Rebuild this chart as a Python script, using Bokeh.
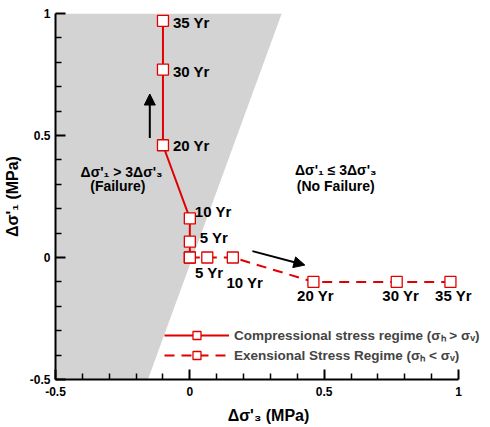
from bokeh.plotting import figure
from bokeh.models import (Range1d, FixedTicker, Arrow, NormalHead, Legend, LegendItem,
                          ColumnDataSource)
from bokeh.core.properties import value
from bokeh.embed import file_html
from bokeh.resources import INLINE

# ---- data ----
comp_labels = ["", "5 Yr", "10 Yr", "20 Yr", "30 Yr", "35 Yr"]
comp_ds3 = [0.0, 0.0, 0.0, -0.1, -0.1, -0.1]
comp_ds1 = [0.0, 0.065, 0.16, 0.46, 0.77, 0.97]

ext_labels = ["", "5 Yr", "10 Yr", "20 Yr", "30 Yr", "35 Yr"]
ext_ds3 = [0.0, 0.065, 0.16, 0.46, 0.77, 0.97]
ext_ds1 = [0.0, 0.0, 0.0, -0.1, -0.1, -0.1]

# failure region (Δσ'1 > 3Δσ'3)
fail_ds3 = [-0.5, -0.5, 0.342, -0.156]
fail_ds1 = [-0.5, 1.0, 1.0, -0.5]

tick_vals = [-0.5, 0, 0.5, 1]
tick_text = ["-0.5", "0", "0.5", "1"]
minor_vals = [-0.4, -0.3, -0.2, -0.1, 0.1, 0.2, 0.3, 0.4, 0.6, 0.7, 0.8, 0.9]

region_text = ["Δσ'₁ > 3Δσ'₃", "(Failure)", "Δσ'₁ ≤ 3Δσ'₃", "(No Failure)"]
region_x = [-0.254, -0.268, 0.543, 0.543]
region_y = [0.352, 0.291, 0.357, 0.295]

arrow_x0 = [-0.149, 0.233]
arrow_y0 = [0.49, 0.026]
arrow_x1 = [-0.149, 0.428]
arrow_y1 = [0.67, -0.031]

legend_labels = ["Compressional stress regime (σₕ > σᵥ)",
                 "Exensional Stress Regime (σₕ < σᵥ)"]

# ---- styles ----
RED = "#e00000"
FONT = "Liberation Sans"
comp_dx = [0, 10, 5, 10, 10, 10]
comp_dy = [0, -4, -7, 0, 2, 2]
ext_dx = [0, 2, 12, 2, 4, 3]
ext_dy = [0, 15, 25, 14, 14, 14]

X_END = 1.0856   # frame extends past the axis so outer labels are not clipped

p = figure(frame_width=426, frame_height=366,
           x_range=Range1d(-0.5, X_END), y_range=Range1d(-0.5, 1),
           output_backend="svg", toolbar_location=None,
           min_border_left=48, min_border_right=0, min_border_top=13, min_border_bottom=30)
p.outline_line_color = None
p.grid.visible = False
p.background_fill_color = "white"
p.border_fill_color = "white"

p.patch(fail_ds3, fail_ds1, fill_color="#d3d3d3", line_color=None)

comp_src = ColumnDataSource(dict(x=comp_ds3, y=comp_ds1, t=comp_labels, dx=comp_dx, dy=comp_dy))
ext_src = ColumnDataSource(dict(x=ext_ds3, y=ext_ds1, t=ext_labels, dx=ext_dx, dy=ext_dy))

ext_line = p.line("x", "y", source=ext_src, line_color=RED, line_width=2, line_dash="10 7")
ext_mark = p.scatter("x", "y", source=ext_src, marker="square", size=11,
                     fill_color="white", line_color=RED, line_width=1.3)
comp_line = p.line("x", "y", source=comp_src, line_color=RED, line_width=2)
comp_mark = p.scatter("x", "y", source=comp_src, marker="square", size=11,
                      fill_color="white", line_color=RED, line_width=1.3)

p.text("x", "y", text="t", source=comp_src, x_offset="dx", y_offset="dy",
       text_align="left", text_baseline="middle", text_font=value(FONT),
       text_font_style="bold", text_font_size="15px", text_color="black")
p.text("x", "y", text="t", source=ext_src, x_offset="dx", y_offset="dy",
       text_align="center", text_baseline="middle", text_font=value(FONT),
       text_font_style="bold", text_font_size="15px", text_color="black")

p.text(region_x, region_y, text=region_text, text_align="center", text_baseline="middle",
       text_font=value(FONT), text_font_style="bold", text_font_size="14px",
       text_color="black")

arr_src = ColumnDataSource(dict(x0=arrow_x0, y0=arrow_y0, x1=arrow_x1, y1=arrow_y1))
p.add_layout(Arrow(end=NormalHead(size=11, fill_color="black", line_color="black"),
                   x_start="x0", y_start="y0", x_end="x1", y_end="y1", source=arr_src,
                   line_width=2, line_color="black"))

legend = Legend(items=[LegendItem(label=legend_labels[0], renderers=[comp_line, comp_mark]),
                       LegendItem(label=legend_labels[1], renderers=[ext_line, ext_mark])],
                location=(109, 14), glyph_width=65, glyph_height=20, label_height=20,
                spacing=0, padding=0, margin=0, label_standoff=5,
                border_line_color=None, background_fill_alpha=0,
                label_text_font=FONT, label_text_font_style="bold",
                label_text_font_size="13.5px")
p.add_layout(legend)

for ax in (p.xaxis, p.yaxis):
    ax.ticker = FixedTicker(ticks=tick_vals, minor_ticks=minor_vals)
    ax.major_label_overrides = dict(zip(tick_vals, tick_text))
    ax.bounds = (-0.5, 1)
    ax.axis_line_width = 2
    ax.axis_line_color = "black"
    ax.major_tick_in = 10
    ax.major_tick_out = 0
    ax.minor_tick_in = 6
    ax.minor_tick_out = 0
    ax.major_tick_line_width = 2
    ax.minor_tick_line_width = 1.5
    ax.major_label_text_font = FONT
    ax.major_label_text_font_style = "bold"
    ax.major_label_text_font_size = "12px"
    ax.major_label_text_color = "black"
    ax.axis_label_text_font = FONT
    ax.axis_label_text_font_style = "bold"
    ax.axis_label_text_font_size = "16px"
    ax.axis_label_text_color = "black"

p.xaxis.axis_label = "Δσ'₃ (MPa)"
p.yaxis.axis_label = "Δσ'₁ (MPa)"
p.xaxis.major_label_standoff = 7
p.xaxis.axis_label_standoff = 8
p.yaxis.major_label_standoff = 5
p.yaxis.axis_label_standoff = 6

open("out.html", "w").write(file_html(p, INLINE))
